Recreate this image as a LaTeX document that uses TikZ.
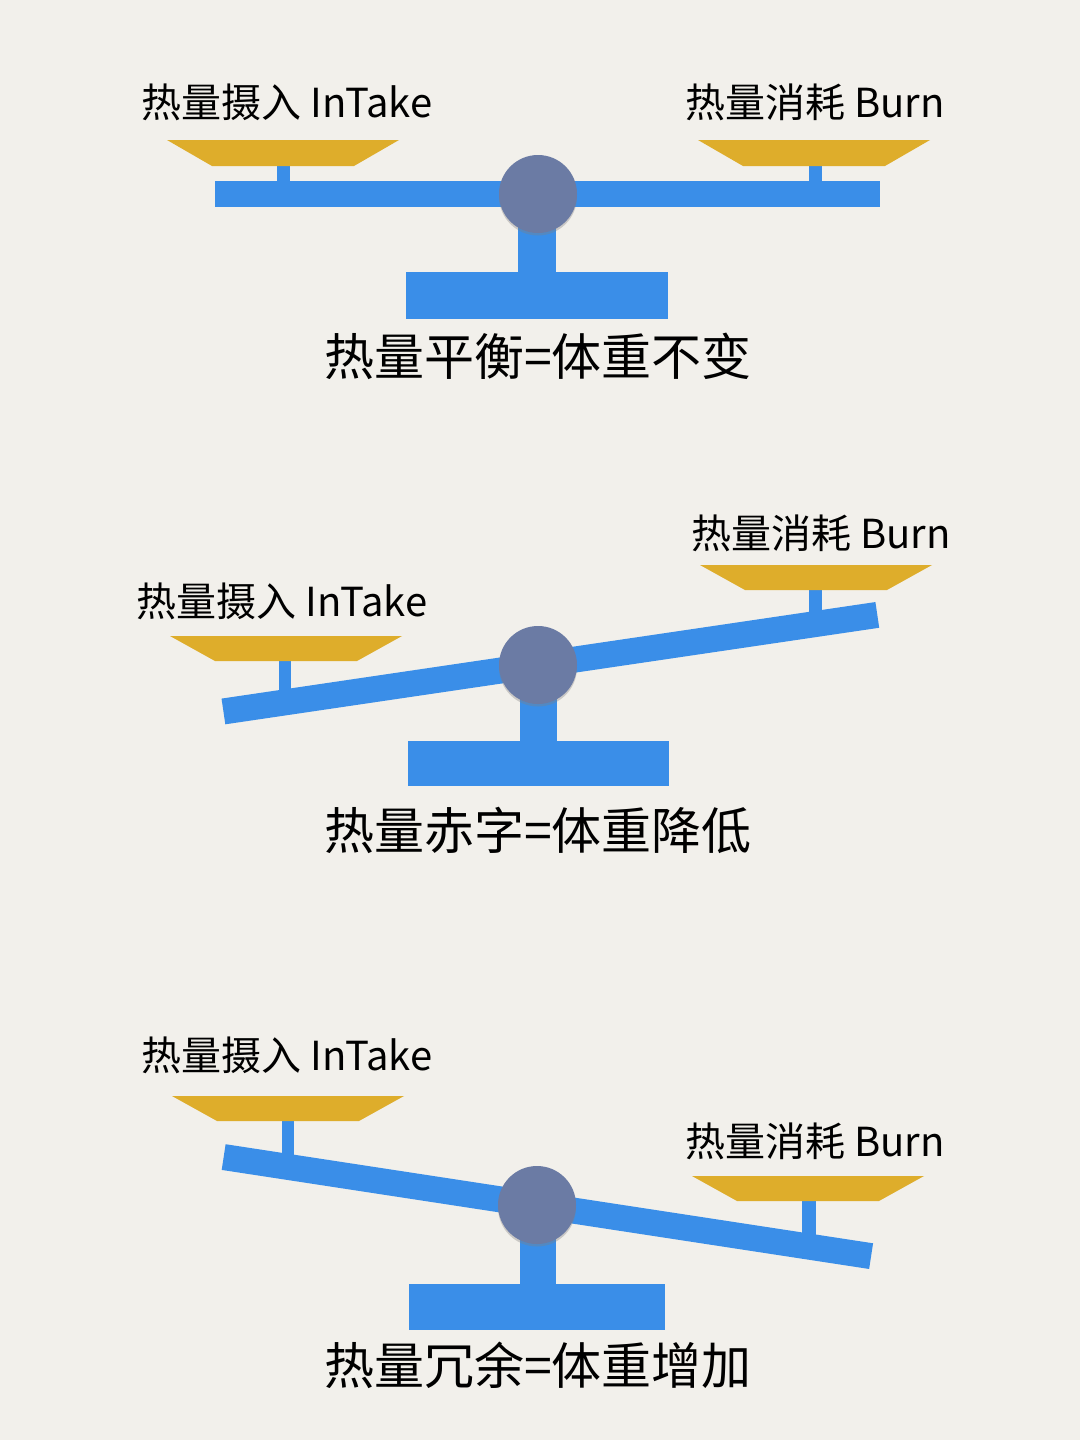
\documentclass[tikz,border=0pt]{standalone}
\usepackage{fontspec}
\setmainfont{Noto Sans CJK SC}
\usepackage{xcolor}
\usepackage{tikz}
\usetikzlibrary{positioning,shadows}
\definecolor{paper}{RGB}{242,240,235}
\definecolor{beamblue}{RGB}{58,142,232}
\definecolor{pangold}{RGB}{222,173,43}
\definecolor{hubgrey}{RGB}{107,123,164}

\begin{document}
\begin{tikzpicture}[
  x=1pt, y=-1pt,
  steel/.style={fill=beamblue},
  brass/.style={fill=pangold},
  hub/.style={circle, fill=hubgrey, minimum size=78pt, inner sep=0pt,
    drop shadow={shadow xshift=0pt, shadow yshift=-2.5pt, opacity=.35}},
  panlabel/.style={font=\fontsize{40}{44}\selectfont, inner sep=0pt},
  verdict/.style={font=\fontsize{50}{56}\selectfont, inner sep=0pt},
]
\fill[paper] (0,0) rectangle (1080,1440);
\useasboundingbox (0,0) rectangle (1080,1440);

% balanced
\coordinate (p1) at (538,194);
\fill[steel] (277,166) rectangle (290,185);
\fill[steel] (809,166) rectangle (822,185);
\fill[brass] (167,140) -- ++(232,0) -- ++(-45,26) -- ++(-142,0) -- cycle;
\fill[brass] (698,140) -- ++(232,0) -- ++(-45,26) -- ++(-142,0) -- cycle;
\fill[steel] (215,181) rectangle (880,207);
\fill[steel] (518,194) rectangle (556,272);
\fill[steel] (406,272) rectangle (668,319);
\node[hub] (hub1) at (p1) {};
\node[panlabel] (in1) at (287,102) {热量摄入 InTake};
\node[panlabel] (out1) at (815,102) {热量消耗 Burn};
\node[verdict] (res1) at (538,356) {热量平衡=体重不变};

% deficit
\coordinate (p2) at (538,665);
\fill[steel] (279,661) rectangle (291,705);
\fill[steel] (809,590) rectangle (822,625);
\fill[brass] (170,636) -- ++(232,0) -- ++(-45,25) -- ++(-142,0) -- cycle;
\fill[brass] (700,565) -- ++(232,0) -- ++(-45,25) -- ++(-142,0) -- cycle;
\fill[steel, rotate around={8.4:(p2)}] (220,652) rectangle (881,678);
\fill[steel] (520,665) rectangle (557,741);
\fill[steel] (408,741) rectangle (669,786);
\node[hub] (hub2) at (p2) {};
\node[panlabel] (in2) at (282,601) {热量摄入 InTake};
\node[panlabel] (out2) at (821,533) {热量消耗 Burn};
\node[verdict] (res2) at (538,830) {热量赤字=体重降低};

% surplus
\coordinate (p3) at (537,1205);
\fill[steel] (282,1121) rectangle (294,1168);
\fill[steel] (802,1201) rectangle (816,1246);
\fill[brass] (172,1096) -- ++(232,0) -- ++(-45,25) -- ++(-142,0) -- cycle;
\fill[brass] (692,1176) -- ++(232,0) -- ++(-45,25) -- ++(-142,0) -- cycle;
\fill[steel, rotate around={-8.7:(p3)}] (220,1192) rectangle (875,1218);
\fill[steel] (520,1205) rectangle (556,1284);
\fill[steel] (409,1284) rectangle (665,1330);
\node[hub] (hub3) at (p3) {};
\node[panlabel] (in3) at (287,1055) {热量摄入 InTake};
\node[panlabel] (out3) at (815,1141) {热量消耗 Burn};
\node[verdict] (res3) at (538,1365) {热量冗余=体重增加};
\end{tikzpicture}
\end{document}
